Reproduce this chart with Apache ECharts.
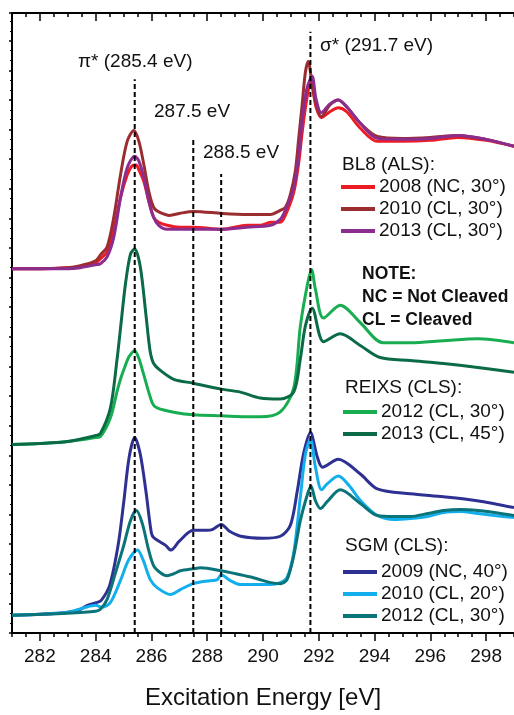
<!DOCTYPE html>
<html><head><meta charset="utf-8">
<script src="https://cdn.jsdelivr.net/npm/echarts@6/dist/echarts.min.js"></script>
<style>html,body{margin:0;padding:0;background:#fff}#c{width:514px;height:715px}</style>
</head><body><div id="c"></div>
<script>
// ---- data (energy in eV, intensity in arbitrary offset units) ----
const bl8_2008 = [[281,369],[282,369],[283,370],[283.45,371],[284.0,375],[284.17,379],[284.41,386],[284.65,408],[284.89,441],[285.13,464],[285.3,473],[285.45,474],[285.55,469],[285.73,457],[285.9,438],[286.08,421],[286.26,416],[286.56,413],[287.0,411],[287.52,411],[288.53,409],[289.43,413],[289.9,413],[290.27,416],[290.62,416],[290.8,423],[291.1,446],[291.28,476],[291.4,506],[291.57,541],[291.72,558],[291.9,533],[292.09,522],[292.4,528],[292.7,532],[293.0,528],[293.5,511],[294.1,498],[295,498],[296,499],[297,502],[298,499],[299,493]];
const bl8_2010 = [[281,369],[282,369],[283,370],[283.45,372],[284.0,377],[284.17,383],[284.41,391],[284.65,421],[284.89,464],[285.13,498],[285.37,509],[285.55,498],[285.73,474],[285.9,448],[286.08,431],[286.3,426],[286.66,423],[287.0,425],[287.52,427],[288.53,425],[289.43,424],[290.27,424],[290.62,428],[290.8,431],[290.98,444],[291.16,468],[291.28,501],[291.4,534],[291.52,568],[291.62,579],[291.76,556],[291.9,536],[292.09,523],[292.4,535],[292.7,540],[293.0,533],[293.5,516],[294.1,503],[295,501],[296,502],[297,504],[298,500],[299,493]];
const bl8_2013 = [[281,369],[282,369],[283,369],[283.45,370],[284.0,373],[284.17,374],[284.41,381],[284.65,401],[284.89,441],[285.13,471],[285.4,483],[285.55,478],[285.73,461],[285.9,438],[286.08,421],[286.26,413],[286.56,409],[287.52,409],[288.53,409],[289.43,411],[290.27,413],[290.62,419],[290.8,428],[291.1,451],[291.28,484],[291.4,518],[291.57,551],[291.76,564],[291.9,541],[292.09,527],[292.4,536],[292.7,540],[293.0,533],[293.5,516],[294.1,501],[295,500],[296,501],[297,504],[298,500],[299,493]];
const reixs_2012 = [[281,191],[282,192],[283,194],[284.0,198],[284.17,199],[284.53,218],[284.77,245],[284.9,258],[285.05,270],[285.2,280],[285.4,286],[285.55,278],[285.7,264],[286.03,233],[286.2,228],[286.9,223],[287.5,221],[288.5,220],[289.55,219],[289.9,219],[290.62,224],[291.1,248],[291.34,311],[291.6,354],[291.74,368],[291.88,348],[292.17,319],[292.77,332],[293.5,314],[294.3,294],[295.28,294],[296.47,296],[297.7,298],[299,294]];
const reixs_2013 = [[281,191],[282,192],[283,194],[284.0,200],[284.17,202],[284.53,228],[284.77,278],[284.9,311],[285.07,354],[285.25,384],[285.4,389],[285.6,371],[285.8,323],[285.95,286],[286.08,273],[286.32,266],[286.8,257],[287.5,253],[288.5,247],[289.19,244],[289.9,238],[290.62,237],[291.1,244],[291.34,278],[291.52,311],[291.76,329],[292.17,295],[292.77,303],[293.5,291],[294.2,279],[295.28,276],[296.47,273],[297.7,269],[299,264]];
const sgm_2009 = [[281,18],[282,19],[283,21],[283.45,24],[283.7,28],[284.05,31],[284.2,33],[284.5,48],[284.8,88],[285.0,131],[285.2,178],[285.4,198],[285.6,181],[285.8,144],[286.0,101],[286.1,96],[286.5,89],[286.7,84],[287.0,93],[287.5,104],[288.0,104],[288.2,105],[288.5,110],[288.8,103],[289.2,98],[290.0,96],[290.62,98],[290.98,109],[291.23,144],[291.45,181],[291.7,203],[291.95,178],[292.13,168],[292.7,176],[293.49,161],[294.1,146],[295.28,141],[296.47,138],[297.68,134],[299,127]];
const sgm_2010 = [[281,18],[282,19],[283,21],[283.63,26],[284.0,28],[284.23,26],[284.53,31],[284.9,54],[285.18,74],[285.5,84],[285.7,74],[285.96,54],[286.2,46],[286.68,39],[287.04,44],[287.5,50],[288.1,53],[288.36,54],[288.5,59],[288.83,53],[289.19,49],[289.66,49],[290.27,49],[290.62,51],[290.86,56],[291.1,81],[291.34,138],[291.52,181],[291.7,196],[291.88,168],[292.1,145],[292.3,151],[292.7,159],[293.1,149],[293.5,134],[294.1,119],[294.7,115],[295.28,116],[295.9,118],[296.47,122],[297.1,123],[297.7,121],[298.3,119],[299,117]];
const sgm_2012 = [[281,18],[282.98,20],[284.0,22],[284.17,24],[284.41,34],[284.71,61],[285.0,88],[285.25,114],[285.46,124],[285.67,111],[285.9,84],[286.08,68],[286.32,61],[286.56,58],[286.8,60],[287.04,63],[287.5,65],[287.76,66],[288.5,63],[289.19,59],[289.66,56],[289.9,54],[290.27,51],[290.62,50],[290.86,54],[291.1,78],[291.34,114],[291.6,141],[291.72,149],[291.88,134],[292.06,126],[292.3,133],[292.77,145],[293.5,131],[294.1,119],[294.7,118],[295.28,118],[295.9,121],[296.47,124],[297.1,125],[297.7,124],[298.3,122],[299,119]];

const markerEnergies = [285.4, 287.5, 288.5, 291.7];
const markerTops = [561, 501, 465, 609];
const markerTexts = ['π* (285.4 eV)', '287.5 eV', '288.5 eV', 'σ* (291.7 eV)'];
const tickLabels = [282, 284, 286, 288, 290, 292, 294, 296, 298];

const seriesIds = ['bl8a','bl8b','bl8c','rxa','rxb','sga','sgb','sgc'];
const seriesLabels = ['2008 (NC, 30°)','2010 (CL, 30°)','2013 (CL, 30°)','2012 (CL, 30°)','2013 (CL, 45°)','2009 (NC, 40°)','2010 (CL, 20°)','2012 (CL, 30°)'];
const seriesData = [bl8_2008, bl8_2010, bl8_2013, reixs_2012, reixs_2013, sgm_2009, sgm_2010, sgm_2012];
const seriesColors = ['#ed1c24','#9b2c30','#8b2d8f','#17ad50','#0b6b46','#2e3192','#12afec','#0a7479'];
const groupTitles = ['BL8 (ALS):','REIXS (CLS):','SGM (CLS):'];

const FONT = 'Liberation Sans, Arial, sans-serif';
const chart = echarts.init(document.getElementById('c'), null, {renderer:'canvas'});

const series = seriesData.map((d,i)=>({
  id: seriesIds[i], name: seriesIds[i], type:'line', data:d, showSymbol:false, symbol:'none',
  smooth:0.3, lineStyle:{width:3, color:seriesColors[i]}, itemStyle:{color:seriesColors[i]},
  xAxisIndex:0, yAxisIndex:0, z:2, silent:true, animation:false
}));
markerEnergies.forEach((e,i)=>{
  series.push({type:'line', data:[[e,0],[e,markerTops[i]]], symbol:'none', silent:true, animation:false,
    lineStyle:{color:'#000', width:2, type:[5,3]}, z:5});
});

const labelMap = {};
seriesIds.forEach((id,i)=>labelMap[id]=seriesLabels[i]);
function mkLegend(ids, left, top){
  return {data:ids, orient:'vertical', left:left, top:top, padding:0, itemGap:2, icon:'rect',
    itemWidth:34, itemHeight:4, selectedMode:false,
    textStyle:{fontFamily:FONT, fontSize:19, color:'#111', lineHeight:20, padding:[0,0,0,-1]},
    formatter: n=>labelMap[n]};
}

const txt = (s, x, y, opts={}) => ({type:'text', x:x, y:y, style:Object.assign({text:s, fontFamily:FONT, fontSize:19, fill:'#111', textVerticalAlign:'middle'}, opts), z:10});

const option = {
  animation:false,
  backgroundColor:'#fff',
  grid:{left:12, right:0, top:13, bottom:74},
  xAxis:[
    {type:'value', min:281, max:299, interval:0.5, position:'bottom',
     axisLine:{lineStyle:{color:'#000', width:2}},
     axisTick:{show:true, inside:false, length:4, lineStyle:{color:'#000', width:1.5}},
     axisLabel:{customValues:tickLabels, margin:14, fontFamily:FONT, fontSize:19, color:'#111'},
     splitLine:{show:false},
     name:'Excitation Energy [eV]', nameLocation:'middle', nameGap:53,
     nameTextStyle:{fontFamily:FONT, fontSize:24, color:'#111'}},
    {type:'value', min:281, max:299, interval:0.5, position:'bottom',
     axisLine:{show:false}, axisLabel:{show:false}, splitLine:{show:false},
     axisTick:{show:true, customValues:tickLabels, length:8, lineStyle:{color:'#000', width:1.5}}},
    {type:'value', min:281, max:299, interval:0.5, position:'top',
     axisLine:{lineStyle:{color:'#000', width:2}}, axisLabel:{show:false}, splitLine:{show:false},
     axisTick:{show:true, inside:true, length:4, lineStyle:{color:'#000', width:1.5}}},
    {type:'value', min:281, max:299, interval:0.5, position:'top',
     axisLine:{show:false}, axisLabel:{show:false}, splitLine:{show:false},
     axisTick:{show:true, inside:true, customValues:tickLabels, length:8, lineStyle:{color:'#000', width:1.5}}}
  ],
  yAxis:{type:'value', min:0, max:628, interval:30,
    axisLine:{show:true, lineStyle:{color:'#000', width:2}},
    axisTick:{show:true, length:3, lineStyle:{color:'#000', width:1.5}},
    minorTick:{show:true, splitNumber:3, length:2, lineStyle:{color:'#000', width:1}},
    axisLabel:{show:false}, splitLine:{show:false}},
  legend:[
    mkLegend(['bl8a','bl8b','bl8c'], 341, 177),
    mkLegend(['rxa','rxb'], 343, 402),
    mkLegend(['sga','sgb','sgc'], 343, 562)
  ],
  graphic:[
    txt(markerTexts[0], 78, 62),
    txt(markerTexts[1], 154, 112),
    txt(markerTexts[2], 203, 153),
    txt(markerTexts[3], 320, 46),
    txt(groupTitles[0], 342, 165),
    txt(groupTitles[1], 345, 388),
    txt(groupTitles[2], 345, 546),
    txt('NOTE:', 362, 274, {fontWeight:'bold', fontSize:17.5}),
    txt('NC = Not Cleaved', 362, 297, {fontWeight:'bold', fontSize:17.5}),
    txt('CL = Cleaved', 362, 320, {fontWeight:'bold', fontSize:17.5})
  ],
  series:series
};
chart.setOption(option);
</script></body></html>
